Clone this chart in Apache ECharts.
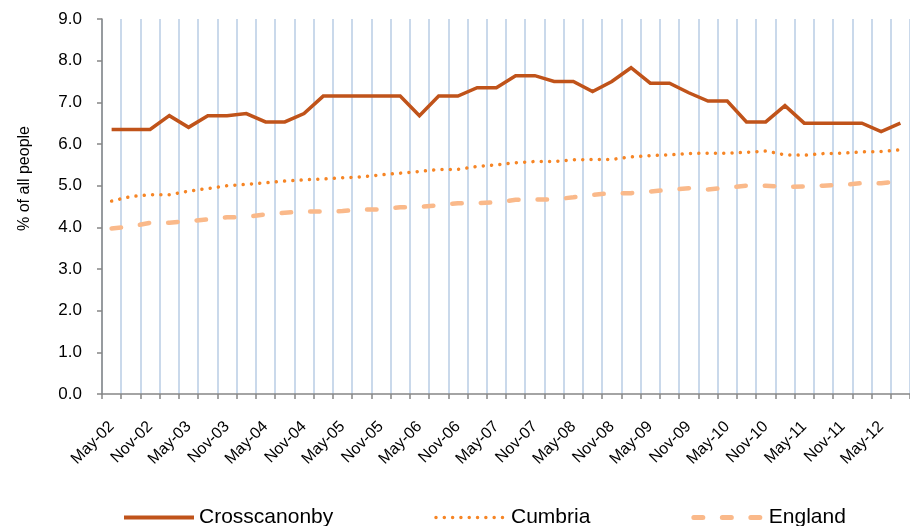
<!DOCTYPE html>
<html>
<head>
<meta charset="utf-8">
<script src="https://cdn.jsdelivr.net/npm/echarts@6/dist/echarts.min.js"></script>
<style>html,body{margin:0;padding:0;background:#fff}#c{width:910px;height:526px}</style>
</head>
<body>
<div id="c"></div>
<script>
// Quarterly categories May-02 .. Aug-12
const categories = [
 'May-02','Aug-02','Nov-02','Feb-03','May-03','Aug-03','Nov-03','Feb-04','May-04','Aug-04','Nov-04',
 'Feb-05','May-05','Aug-05','Nov-05','Feb-06','May-06','Aug-06','Nov-06','Feb-07','May-07','Aug-07',
 'Nov-07','Feb-08','May-08','Aug-08','Nov-08','Feb-09','May-09','Aug-09','Nov-09','Feb-10','May-10',
 'Aug-10','Nov-10','Feb-11','May-11','Aug-11','Nov-11','Feb-12','May-12','Aug-12'
];
const crosscanonby = [6.35,6.35,6.35,6.68,6.40,6.68,6.68,6.73,6.53,6.53,6.73,7.15,7.15,7.15,7.15,7.15,6.68,7.15,7.15,7.35,7.35,7.64,7.64,7.50,7.50,7.26,7.50,7.83,7.46,7.46,7.23,7.03,7.03,6.53,6.53,6.92,6.50,6.50,6.50,6.50,6.30,6.50];
const cumbria = [4.63,4.74,4.78,4.78,4.87,4.93,5.00,5.03,5.07,5.11,5.14,5.16,5.19,5.21,5.26,5.30,5.34,5.39,5.39,5.46,5.50,5.55,5.58,5.58,5.62,5.63,5.63,5.69,5.72,5.74,5.77,5.78,5.78,5.80,5.83,5.74,5.73,5.77,5.78,5.81,5.82,5.86];
const england = [3.97,4.02,4.11,4.11,4.15,4.19,4.24,4.25,4.31,4.35,4.38,4.38,4.39,4.43,4.43,4.48,4.49,4.53,4.58,4.58,4.60,4.66,4.67,4.67,4.72,4.78,4.82,4.82,4.86,4.90,4.94,4.91,4.95,5.00,5.00,4.97,4.98,5.00,5.02,5.06,5.06,5.11];
const yTicks = [0,1,2,3,4,5,6,7,8,9];

const FONT = "'Liberation Sans', Arial, sans-serif";
const chart = echarts.init(document.getElementById('c'), null, {renderer:'canvas'});
chart.setOption({
  animation: false,
  backgroundColor: '#fff',
  grid: {left: 102, top: 19, bottom: 132, right: -2, containLabel: false},
  legend: {
    left: 117, top: 502,
    itemWidth: 70, itemHeight: 14, itemGap: 101,
    itemStyle: {opacity: 0},
    textStyle: {fontFamily: FONT, fontSize: 21, color: '#000'},
    data: [
      {name: 'Crosscanonby', lineStyle: {width: 4}},
      {name: 'Cumbria', lineStyle: {width: 3.5, type: [0.01, 8.3], cap: 'round'}},
      {name: 'England', lineStyle: {width: 5, type: [9, 19.5], cap: 'round'}}
    ]
  },
  xAxis: {
    type: 'category',
    data: categories,
    boundaryGap: true,
    axisLine: {lineStyle: {color: '#868686', width: 1.5}},
    axisTick: {show: true, interval: 0, length: 5, lineStyle: {color: '#868686', width: 1.5}},
    axisLabel: {interval: 1, rotate: 45, margin: 30, fontFamily: FONT, fontSize: 16, color: '#000'},
    splitLine: {show: true, interval: 0, lineStyle: {color: '#B9CDE5', width: 1.5}}
  },
  yAxis: {
    type: 'value',
    min: yTicks[0], max: yTicks[yTicks.length-1], interval: 1,
    name: '% of all people',
    nameLocation: 'middle',
    nameGap: 69,
    nameTextStyle: {fontFamily: FONT, fontSize: 16, color: '#000', padding: [0,0,0,56]},
    axisLine: {show: true, lineStyle: {color: '#868686', width: 1.5}},
    axisTick: {show: true, length: 5, lineStyle: {color: '#868686', width: 1.5}},
    axisLabel: {margin: 20, fontFamily: FONT, fontSize: 17, color: '#000', formatter: v => v.toFixed(1)},
    splitLine: {show: false}
  },
  series: [
    {name: 'Crosscanonby', type: 'line', data: crosscanonby, symbol: 'none',
     lineStyle: {color: '#C0531A', width: 3.5, join: 'miter'}, itemStyle: {color: '#C0531A'}, z: 5},
    {name: 'Cumbria', type: 'line', data: cumbria, symbol: 'none',
     lineStyle: {color: '#F68525', width: 3.5, type: [0.01, 8.3], cap: 'round'}, itemStyle: {color: '#F68525'}, z: 4},
    {name: 'England', type: 'line', data: england, symbol: 'none',
     lineStyle: {color: '#FAB98A', width: 4.5, type: [9.5, 19], cap: 'round'}, itemStyle: {color: '#FAB98A'}, z: 3}
  ]
});
</script>
</body>
</html>
